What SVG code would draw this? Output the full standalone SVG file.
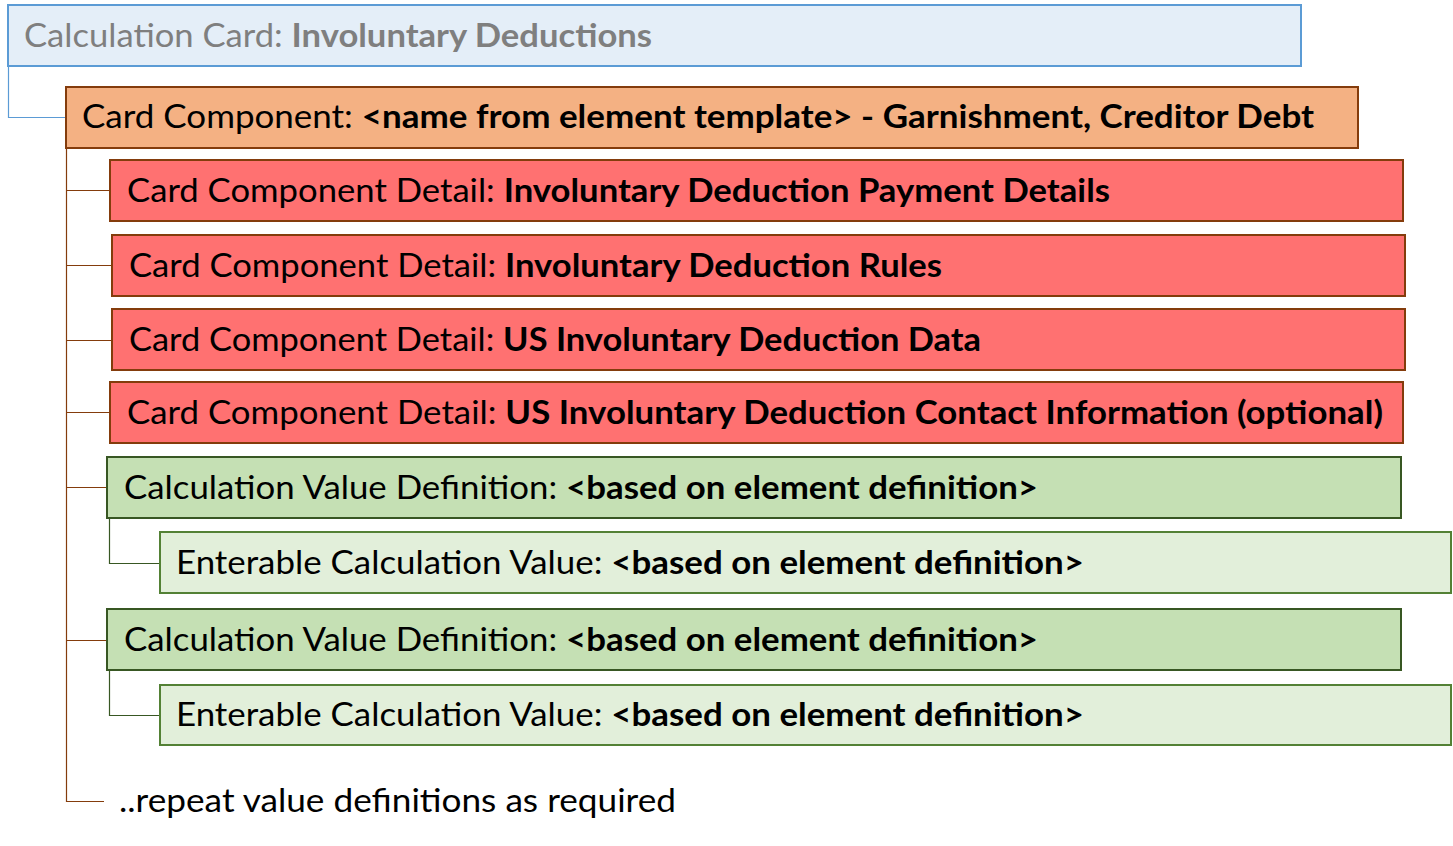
<svg xmlns="http://www.w3.org/2000/svg" width="1453" height="846" viewBox="0 0 1453 846">
<style>
text{font-family:Lato,"Open Sans","Liberation Sans",sans-serif;font-size:33px;fill:#000}
.b{font-weight:bold}
.box{stroke-width:2}
.card{fill:#e4eef8;stroke:#5b9bd5}
.comp{fill:#f4b183;stroke:#843c0c}
.det{fill:#ff7171;stroke:#843c0c}
.cvd{fill:#c5e0b4;stroke:#385723}
.ecv{fill:#e2efda;stroke:#538135}
.c{fill:none;stroke-width:1.2}
.cb{stroke:#843c0c}
.cg{stroke:#385723}
.cbl{stroke:#5b9bd5}
</style>
<rect width="1453" height="846" fill="#fff"/>
<g id="connectors">
<path class="c cbl" d="M8.5 66V117.5H66"/>
<path class="c cb" d="M66.5 148V801.5H104"/>
<path class="c cb" d="M66.5 190.5H110"/>
<path class="c cb" d="M66.5 265.5H112"/>
<path class="c cb" d="M66.5 340.5H112"/>
<path class="c cb" d="M66.5 412.5H110"/>
<path class="c cb" d="M66.5 487.5H107"/>
<path class="c cb" d="M66.5 640.5H107"/>
<path class="c cg" d="M109.5 518V563.5H160"/>
<path class="c cg" d="M109.5 670V715.5H160"/>
</g>
<g id="calc-card">
<rect class="box card" x="8" y="5" width="1293" height="61"/>
<text x="24" y="47" textLength="628" lengthAdjust="spacingAndGlyphs" style="fill:#7f7f7f;font-size:32px"><tspan>Calculation Card: </tspan><tspan class="b">Involuntary Deductions</tspan></text>
</g>
<g id="card-component">
<rect class="box comp" x="66" y="87" width="1292" height="61"/>
<text x="82" y="128" textLength="1232" lengthAdjust="spacingAndGlyphs"><tspan>Card Component: </tspan><tspan class="b">&lt;name from element template&gt; - Garnishment, Creditor Debt</tspan></text>
</g>
<g id="detail-1">
<rect class="box det" x="110" y="160" width="1293" height="61"/>
<text x="127" y="202" textLength="983" lengthAdjust="spacingAndGlyphs"><tspan>Card Component Detail: </tspan><tspan class="b">Involuntary Deduction Payment Details</tspan></text>
</g>
<g id="detail-2">
<rect class="box det" x="112" y="235" width="1293" height="61"/>
<text x="129" y="277" textLength="813" lengthAdjust="spacingAndGlyphs"><tspan>Card Component Detail: </tspan><tspan class="b">Involuntary Deduction Rules</tspan></text>
</g>
<g id="detail-3">
<rect class="box det" x="112" y="309" width="1293" height="61"/>
<text x="129" y="351" textLength="852" lengthAdjust="spacingAndGlyphs"><tspan>Card Component Detail: </tspan><tspan class="b">US Involuntary Deduction Data</tspan></text>
</g>
<g id="detail-4">
<rect class="box det" x="110" y="382" width="1293" height="61"/>
<text x="127" y="424" textLength="1256" lengthAdjust="spacingAndGlyphs"><tspan>Card Component Detail: </tspan><tspan class="b">US Involuntary Deduction Contact Information (optional)</tspan></text>
</g>
<g id="value-def-1">
<rect class="box cvd" x="107" y="457" width="1294" height="61"/>
<text x="124" y="499" textLength="914" lengthAdjust="spacingAndGlyphs"><tspan>Calculation Value Definition: </tspan><tspan class="b">&lt;based on element definition&gt;</tspan></text>
</g>
<g id="enterable-1">
<rect class="box ecv" x="160" y="532" width="1291" height="61"/>
<text x="176" y="574" textLength="908" lengthAdjust="spacingAndGlyphs"><tspan>Enterable Calculation Value: </tspan><tspan class="b">&lt;based on element definition&gt;</tspan></text>
</g>
<g id="value-def-2">
<rect class="box cvd" x="107" y="609" width="1294" height="61"/>
<text x="124" y="651" textLength="914" lengthAdjust="spacingAndGlyphs"><tspan>Calculation Value Definition: </tspan><tspan class="b">&lt;based on element definition&gt;</tspan></text>
</g>
<g id="enterable-2">
<rect class="box ecv" x="160" y="685" width="1291" height="60"/>
<text x="176" y="726" textLength="908" lengthAdjust="spacingAndGlyphs"><tspan>Enterable Calculation Value: </tspan><tspan class="b">&lt;based on element definition&gt;</tspan></text>
</g>
<g id="repeat-note">
<text x="119" y="812" textLength="557" lengthAdjust="spacingAndGlyphs">..repeat value definitions as required</text>
</g>
</svg>
